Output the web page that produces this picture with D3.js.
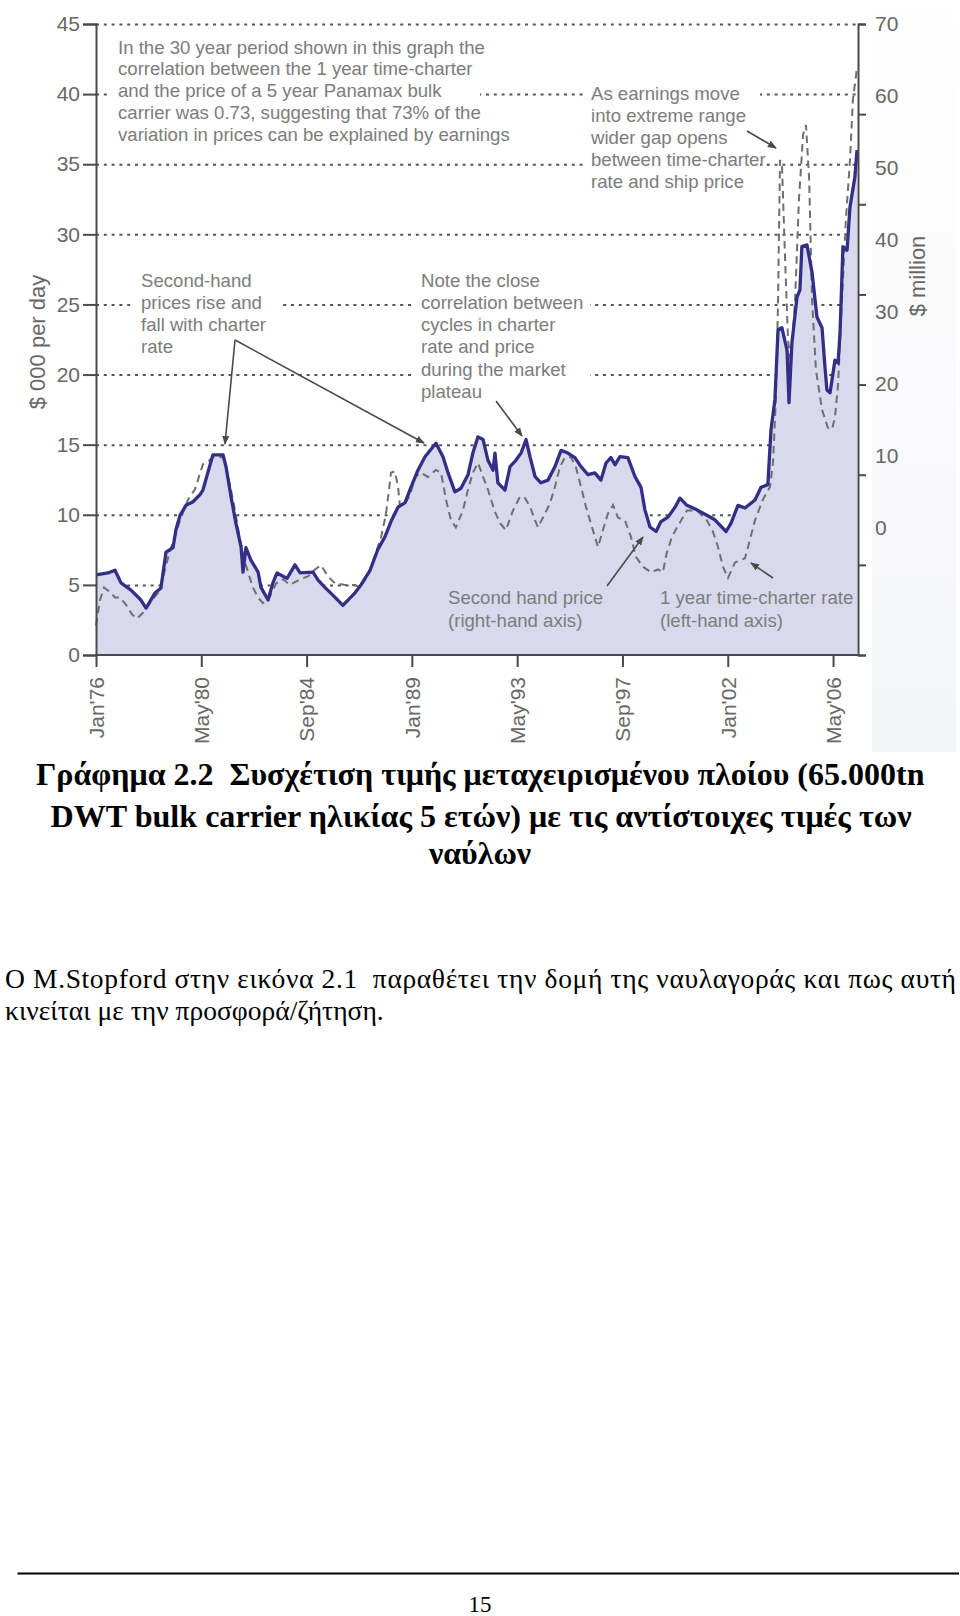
<!DOCTYPE html>
<html>
<head>
<meta charset="utf-8">
<script src="https://cdn.jsdelivr.net/npm/d3@7"></script>
<style>
  body { margin: 0; background: #ffffff; }
  svg { display: block; }
  text { white-space: pre; }
</style>
</head>
<body>
<svg id="page" width="960" height="1616"></svg>
<script>
// ---------------- DATA ----------------
// Second-hand price of a 5 year old Panamax bulk carrier ($ million, right-hand axis)
const priceDates = [1976.00,1976.49,1976.78,1977.03,1977.44,1977.85,1978.06,1978.43,1978.67,1978.88,1979.17,1979.29,1979.46,1979.70,1979.99,1980.28,1980.40,1980.61,1980.81,1981.23,1981.35,1981.56,1981.76,1981.97,1982.05,1982.17,1982.38,1982.67,1982.79,1983.08,1983.28,1983.45,1983.86,1984.19,1984.40,1984.93,1985.14,1985.42,1985.84,1986.16,1986.66,1986.91,1987.28,1987.60,1987.89,1988.14,1988.43,1988.72,1988.96,1989.25,1989.54,1989.99,1990.28,1990.49,1990.77,1991.02,1991.31,1991.51,1991.72,1991.93,1992.13,1992.34,1992.42,1992.54,1992.83,1993.04,1993.28,1993.49,1993.70,1993.86,1994.07,1994.31,1994.60,1994.89,1995.14,1995.42,1995.71,1995.96,1996.25,1996.53,1996.78,1996.99,1997.19,1997.36,1997.56,1997.89,1998.18,1998.43,1998.59,1998.80,1999.05,1999.25,1999.54,1999.83,2000.03,2000.32,2000.73,2001.14,2001.47,2001.93,2002.13,2002.42,2002.71,2003.12,2003.37,2003.65,2003.78,2003.94,2004.07,2004.23,2004.44,2004.52,2004.64,2004.85,2004.97,2005.05,2005.26,2005.47,2005.67,2005.88,2006.00,2006.08,2006.21,2006.41,2006.54,2006.62,2006.74,2006.91,2007.03,2007.23,2007.32];
const priceValues = [8.9,9.1,9.4,8.0,7.2,6.1,5.2,6.9,7.4,11.4,11.9,13.9,15.5,16.6,17.0,17.8,18.3,20.3,22.2,22.2,20.9,17.5,14.6,12.0,9.2,11.9,10.5,9.2,7.5,6.1,8.0,9.1,8.5,10.0,9.1,9.2,8.3,7.5,6.4,5.5,6.9,7.8,9.4,11.7,13.1,14.8,16.4,16.9,18.6,20.5,22.0,23.5,22.0,20.2,18.1,18.5,20.0,22.4,24.2,23.9,21.6,20.5,22.4,19.1,18.3,20.9,21.6,22.4,23.9,22.0,19.8,19.1,19.4,20.9,22.7,22.4,21.9,20.9,20.0,20.2,19.4,21.3,21.9,21.1,22.0,21.9,19.8,18.6,16.1,14.2,13.7,14.8,15.3,16.4,17.4,16.6,16.1,15.5,15.0,13.7,14.6,16.6,16.3,17.2,18.6,18.9,25.0,28.3,36.1,36.3,33.8,28.0,34.6,39.7,40.5,45.3,45.5,42.4,37.5,36.3,32.0,29.4,29.1,32.7,32.4,35.7,45.3,44.9,49.7,53.0,56.0];

// 1 year time-charter rate ($000 per day, left-hand axis)
const rateDates = [1976.00,1976.16,1976.33,1976.58,1976.78,1976.99,1977.23,1977.48,1977.69,1977.98,1978.30,1978.63,1978.88,1979.13,1979.46,1979.79,1980.07,1980.40,1980.61,1980.81,1981.23,1981.43,1981.68,1981.93,1982.17,1982.46,1982.67,1982.87,1983.08,1983.41,1983.70,1983.98,1984.40,1984.72,1985.01,1985.26,1985.55,1985.84,1986.25,1986.66,1986.86,1987.19,1987.48,1987.73,1987.93,1988.06,1988.14,1988.30,1988.43,1988.51,1988.72,1988.92,1989.13,1989.37,1989.66,1989.99,1990.20,1990.40,1990.61,1990.81,1991.10,1991.31,1991.51,1991.72,1991.93,1992.13,1992.42,1992.63,1992.87,1993.16,1993.45,1993.65,1993.86,1994.07,1994.19,1994.48,1994.68,1994.89,1995.09,1995.30,1995.55,1995.75,1995.96,1996.16,1996.45,1996.66,1996.86,1997.07,1997.28,1997.48,1997.77,1998.02,1998.22,1998.51,1998.84,1999.13,1999.33,1999.49,1999.70,1999.91,2000.32,2000.73,2001.14,2001.39,2001.60,2001.80,2002.01,2002.30,2002.71,2002.91,2003.12,2003.45,2003.74,2003.86,2003.98,2004.07,2004.15,2004.23,2004.36,2004.48,2004.60,2004.77,2004.93,2005.10,2005.22,2005.35,2005.47,2005.63,2005.88,2006.12,2006.29,2006.41,2006.54,2006.70,2006.86,2007.03,2007.15,2007.32];
const rateValues = [2.1,3.9,4.8,4.5,4.1,4.1,3.6,2.9,2.6,3.1,3.9,4.6,6.4,7.9,9.6,11.1,11.8,13.6,13.8,14.1,14.1,12.8,10.7,8.2,6.4,4.8,4.1,3.7,3.9,5.1,5.4,5.0,5.4,5.6,6.1,6.4,5.6,5.1,5.0,5.0,4.8,5.7,7.1,8.4,10.0,11.8,13.0,13.1,12.0,10.6,10.8,11.4,12.7,13.0,12.7,13.2,13.0,11.1,9.6,9.1,10.3,11.8,13.0,13.7,12.7,11.8,10.2,9.4,8.9,10.3,11.3,11.2,10.6,9.6,9.1,10.1,10.8,12.0,13.4,14.1,14.1,13.4,12.0,10.6,8.9,7.7,8.9,10.1,10.7,9.8,9.6,8.4,7.0,6.3,5.9,6.1,5.9,7.3,8.4,9.1,10.3,10.3,9.6,8.8,7.7,6.3,5.5,6.6,6.9,8.2,9.6,11.1,12.0,13.7,18.2,25.3,35.3,35.0,28.2,22.5,20.7,25.3,32.5,37.1,37.8,33.9,25.3,20.3,17.5,16.2,16.1,16.9,19.3,25.3,31.0,35.3,39.6,41.9];

// Axis ticks and labels
const xTickDates = [1976, 1980 + 4/12, 1984 + 8/12, 1989, 1993 + 4/12, 1997 + 8/12, 2002, 2006 + 4/12];
const xTickLabels = ["Jan'76", "May'80", "Sep'84", "Jan'89", "May'93", "Sep'97", "Jan'02", "May'06"];
const leftTicks = [0, 5, 10, 15, 20, 25, 30, 35, 40, 45];
const rightTicks = [0, 10, 20, 30, 40, 50, 60, 70];
const leftAxisTitle = "$ 000 per day";
const rightAxisTitle = "$ million";

// Annotations
const noteCorrelation = ["In the 30 year period shown in this graph the", "correlation between the 1 year time-charter", "and the price of a 5 year Panamax bulk", "carrier was 0.73, suggesting that 73% of the", "variation in prices can be explained by earnings"];
const noteSecondHand = ["Second-hand", "prices rise and", "fall with charter", "rate"];
const notePlateau = ["Note the close", "correlation between", "cycles in charter", "rate and price", "during the market", "plateau"];
const noteExtreme = ["As earnings move", "into extreme range", "wider gap opens", "between time-charter", "rate and ship price"];
const labelPrice = ["Second hand price", "(right-hand axis)"];
const labelRate = ["1 year time-charter rate", "(left-hand axis)"];

// Caption and page text
const captionLines = ["Γράφημα 2.2  Συσχέτιση τιμής μεταχειρισμένου πλοίου (65.000tn", "DWT bulk carrier ηλικίας 5 ετών) με τις αντίστοιχες τιμές των", "ναύλων"];
const bodyLines = ["Ο M.Stopford στην εικόνα 2.1  παραθέτει την δομή της ναυλαγοράς και πως αυτή", "κινείται με την προσφορά/ζήτηση."];
const pageNumber = "15";

// ---------------- LAYOUT ----------------
const svg = d3.select("#page");
const L = 96, R = 858, T = 24, B = 655;
const sans = "Liberation Sans, Arial, Helvetica, sans-serif";
const serif = "Liberation Serif, 'Times New Roman', serif";

const x = d3.scaleLinear().domain([1976, 2007.36]).range([L, R]);
const yLeft = d3.scaleLinear().domain([0, 45]).range([B, T]);
const yRight = d3.scaleLinear().domain([0, 70]).range([B, T]);          // data + tick marks
const yRightLabel = d3.scaleLinear().domain([0, 70]).range([528, T]);   // label placement as printed

// faint scan tone at right edge
const defs = svg.append("defs");
const grad = defs.append("linearGradient").attr("id", "scan").attr("x1", 0).attr("y1", 0).attr("x2", 0).attr("y2", 1);
grad.append("stop").attr("offset", "0%").attr("stop-color", "#ffffff");
grad.append("stop").attr("offset", "100%").attr("stop-color", "#f4f5f8");
svg.append("rect").attr("x", 872).attr("y", 0).attr("width", 84).attr("height", 752).attr("fill", "url(#scan)");

defs.append("marker").attr("id", "arrow").attr("viewBox", "0 0 10 10").attr("refX", 9).attr("refY", 5)
  .attr("markerWidth", 9).attr("markerHeight", 9).attr("orient", "auto-start-reverse")
  .attr("markerUnits", "userSpaceOnUse")
  .append("path").attr("d", "M0,1 L10,5 L0,9 z").attr("fill", "#4a4a4a");

// gridlines
const grid = svg.append("g").attr("transform", `translate(${L},0)`)
  .call(d3.axisLeft(yLeft).tickValues(leftTicks.slice(1)).tickSize(-(R - L)).tickFormat(""));
grid.select(".domain").remove();
grid.selectAll("line").attr("stroke", "#555").attr("stroke-width", 2).attr("stroke-dasharray", "3,4.8");

// white masks behind annotation blocks (the printed gridlines break around them)
const masks = [[107, 35, 373, 111], [134, 268, 146, 90], [415, 268, 175, 135], [584, 80, 176, 113]];
svg.append("g").selectAll("rect").data(masks).join("rect")
  .attr("x", d => d[0]).attr("y", d => d[1]).attr("width", d => d[2]).attr("height", d => d[3]).attr("fill", "#fff");

// area under the price line
const priceData = priceDates.map((d, i) => ({ t: d, v: priceValues[i] }));
const rateData = rateDates.map((d, i) => ({ t: d, v: rateValues[i] }));

svg.append("path").datum(priceData)
  .attr("d", d3.area().x(d => x(d.t)).y0(B).y1(d => yRight(d.v)))
  .attr("fill", "#d9d9ed");

// dashed charter rate
svg.append("path").datum(rateData)
  .attr("d", d3.line().x(d => x(d.t)).y(d => yLeft(d.v)))
  .attr("fill", "none").attr("stroke", "#6f6f6f").attr("stroke-width", 2)
  .attr("stroke-dasharray", "7.5,5");

// solid price line
svg.append("path").datum(priceData)
  .attr("d", d3.line().x(d => x(d.t)).y(d => yRight(d.v)))
  .attr("fill", "none").attr("stroke", "#332e86").attr("stroke-width", 3.3)
  .attr("stroke-linejoin", "round");

// axes
const axisColor = "#4a4a4a", labelColor = "#676767";
const gL = svg.append("g").attr("transform", `translate(${L},0)`)
  .call(d3.axisLeft(yLeft).tickValues(leftTicks).tickSize(13).tickPadding(3));
const gB = svg.append("g").attr("transform", `translate(0,${B})`)
  .call(d3.axisBottom(x).tickValues(xTickDates).tickFormat((d, i) => xTickLabels[i]).tickSize(12).tickPadding(0));
const gR = svg.append("g").attr("transform", `translate(${R},0)`)
  .call(d3.axisRight(yRight).tickValues(rightTicks).tickSize(8).tickFormat(""));
const gRL = svg.append("g").attr("transform", `translate(${R},0)`)
  .call(d3.axisRight(yRightLabel).tickValues(rightTicks).tickSize(0).tickPadding(17));
gRL.select(".domain").remove();

[gL, gB, gR].forEach(g => {
  g.select(".domain").attr("stroke", axisColor).attr("stroke-width", 2);
  g.selectAll(".tick line").attr("stroke", axisColor).attr("stroke-width", 2);
});
[gL, gB, gRL].forEach(g => g.selectAll("text").attr("font-family", sans).attr("font-size", 21).attr("fill", labelColor));
gB.select(".domain").attr("d", `M${L},0H${R}`);
gB.selectAll(".tick text")
  .attr("text-anchor", "end").attr("transform", "translate(0,22) rotate(-90)")
  .attr("x", 0).attr("y", 0).attr("dy", "0.35em");

// axis titles
svg.append("text").text(leftAxisTitle)
  .attr("transform", "translate(37,342) rotate(-90)").attr("text-anchor", "middle").attr("dy", "0.35em")
  .attr("font-family", sans).attr("font-size", 22).attr("fill", labelColor);
svg.append("text").text(rightAxisTitle)
  .attr("transform", "translate(917,276) rotate(-90)").attr("text-anchor", "middle").attr("dy", "0.35em")
  .attr("font-family", sans).attr("font-size", 22).attr("fill", labelColor);

// annotation text blocks
function block(lines, x0, y0, lh) {
  svg.append("g").selectAll("text").data(lines).join("text")
    .attr("x", x0).attr("y", (d, i) => y0 + i * lh).attr("dy", "0.35em")
    .attr("font-family", sans).attr("font-size", 18.6).attr("fill", "#7c7c7c")
    .text(d => d);
}
block(noteCorrelation, 118, 47, 21.8);
block(noteSecondHand, 141, 280, 22.3);
block(notePlateau, 421, 280, 22.3);
block(noteExtreme, 591, 93, 22.2);
block(labelPrice, 448, 597, 23);
block(labelRate, 660, 597, 23);

// arrows
const arrows = [[235, 340, 225, 444], [235, 340, 424, 443], [496, 401, 522, 436], [747, 131, 776, 148], [607, 586, 643, 537], [773, 578, 751, 563]];
svg.append("g").selectAll("line").data(arrows).join("line")
  .attr("x1", d => d[0]).attr("y1", d => d[1]).attr("x2", d => d[2]).attr("y2", d => d[3])
  .attr("stroke", "#4a4a4a").attr("stroke-width", 1.6).attr("marker-end", "url(#arrow)");

// ---------------- CAPTION / PAGE ----------------
function fitSize(sel, target) {
  const w = sel.node().getComputedTextLength();
  const fs = parseFloat(sel.attr("font-size"));
  return fs * target / w;
}
const cap1 = svg.append("text").text(captionLines[0]).attr("x", 36).attr("y", 785)
  .attr("font-family", serif).attr("font-weight", "bold").attr("font-size", 28).attr("fill", "#000");
const capSize = fitSize(cap1, 889);
cap1.attr("font-size", capSize);
svg.append("text").text(captionLines[1]).attr("x", 50.5).attr("y", 827)
  .attr("font-family", serif).attr("font-weight", "bold").attr("font-size", capSize)
  .attr("textLength", 861).attr("lengthAdjust", "spacingAndGlyphs").attr("fill", "#000");
svg.append("text").text(captionLines[2]).attr("x", 480).attr("y", 864).attr("text-anchor", "middle")
  .attr("font-family", serif).attr("font-weight", "bold").attr("font-size", capSize).attr("fill", "#000");

const body2 = svg.append("text").text(bodyLines[1]).attr("x", 5).attr("y", 1020)
  .attr("font-family", serif).attr("font-size", 23).attr("fill", "#000");
const bodySize = fitSize(body2, 379);
body2.attr("font-size", bodySize);
svg.append("text").text(bodyLines[0]).attr("x", 5).attr("y", 988)
  .attr("font-family", serif).attr("font-size", bodySize)
  .attr("textLength", 951).attr("lengthAdjust", "spacing").attr("fill", "#000");

svg.append("line").attr("x1", 17.5).attr("x2", 959).attr("y1", 1573.5).attr("y2", 1573.5)
  .attr("stroke", "#000").attr("stroke-width", 2.2);
svg.append("text").text(pageNumber).attr("x", 480).attr("y", 1612).attr("text-anchor", "middle")
  .attr("font-family", serif).attr("font-size", 23).attr("fill", "#000");
</script>
</body>
</html>
